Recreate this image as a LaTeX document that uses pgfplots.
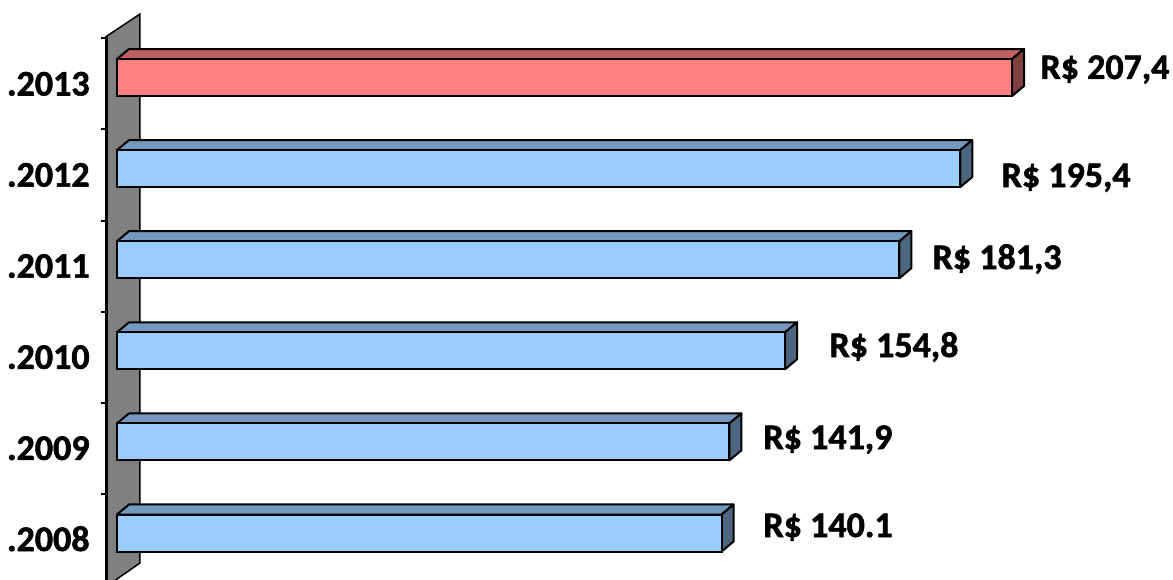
\documentclass[border=0pt]{standalone}
\usepackage{fontspec}
\setmainfont{Carlito}[BoldFeatures={FakeBold=1.5}]
\usepackage{pgfplots}
\pgfplotsset{compat=1.18}
\definecolor{frontblue}{RGB}{153,204,255}
\definecolor{topblue}{RGB}{115,153,191}
\definecolor{sideblue}{RGB}{77,102,128}
\definecolor{frontred}{RGB}{255,128,128}
\definecolor{topred}{RGB}{191,96,96}
\definecolor{sidered}{RGB}{128,64,64}
\definecolor{wallgray}{RGB}{128,128,128}

% top and right faces of a 3D bar: value, category, top colour, side colour
\newcommand{\barfaces}[4]{%
  \pgfmathsetmacro\va{#1+2.78}%
  \pgfmathsetmacro\ya{#2+0.203}%
  \pgfmathsetmacro\yb{#2+0.313}%
  \pgfmathsetmacro\yc{#2-0.093}%
  \pgfmathsetmacro\yd{#2-0.203}%
  \edef\tmp{%
    \noexpand\addplot[fill=#3, draw=black, line width=1pt, line join=round]
      coordinates {(0,\ya) (2.78,\yb) (\va,\yb) (#1,\ya)} -- cycle;
    \noexpand\addplot[fill=#4, draw=black, line width=1pt, line join=round]
      coordinates {(#1,\ya) (\va,\yb) (\va,\yc) (#1,\yd)} -- cycle;}%
  \tmp}

\begin{document}
\begin{tikzpicture}
\begin{axis}[
  scale only axis, width=533pt, height=289.5pt,
  xmin=-2.318, xmax=244.7, ymin=-0.505, ymax=5.851,
  clip=false,
  axis line style={draw=none},
  xtick=\empty,
  ytick={0,...,5},
  yticklabels={\textbf{.2008},\textbf{.2009},\textbf{.2010},\textbf{.2011},\textbf{.2012},\textbf{.2013}},
  yticklabel style={anchor=base east, inner sep=0pt, xshift=-8.5pt, yshift=-9pt,
    font=\fontsize{18}{21}\selectfont\bfseries},
  major tick length=0pt,
  extra y ticks={0.43,1.43,2.43,3.43,4.43,5.43},
  extra y tick labels={},
  extra y tick style={major tick length=3pt, tick align=outside,
    tick style={black, line width=1pt}},
  bar width=18.5pt,
]
% back wall
\draw[fill=wallgray, line width=0.75pt] (axis cs:-2.318,5.456) -- (axis cs:5.33,5.697)
  -- (axis cs:5.33,-0.329) -- (axis cs:-2.318,-0.582) -- cycle;
\draw[line width=1.5pt] (axis cs:-2.318,5.456) -- (axis cs:-2.318,-0.582);

\barfaces{140.1}{0}{topblue}{sideblue}
\barfaces{141.9}{1}{topblue}{sideblue}
\barfaces{154.8}{2}{topblue}{sideblue}
\barfaces{181.3}{3}{topblue}{sideblue}
\barfaces{195.4}{4}{topblue}{sideblue}
\barfaces{207.4}{5}{topred}{sidered}

\addplot[xbar, bar shift=0pt, fill=frontblue, draw=black, line width=1pt]
  coordinates {(140.1,0) (141.9,1) (154.8,2) (181.3,3) (195.4,4)};
\addplot[xbar, bar shift=0pt, fill=frontred, draw=black, line width=1pt]
  coordinates {(207.4,5)};

\begin{scope}[every node/.style={anchor=base west, inner sep=0pt,
    font=\fontsize{18}{21}\selectfont\bfseries}]
\node at (axis cs:213.9,4.984) {R\$ 207,4};
\node at (axis cs:204.9,3.798) {R\$ 195,4};
\node at (axis cs:188.9,2.898) {R\$ 181,3};
\node at (axis cs:165.0,1.932) {R\$ 154,8};
\node at (axis cs:149.7,0.922) {R\$ 141,9};
\node at (axis cs:149.7,-0.044) {R\$ 140.1};
\end{scope}

\coordinate (bl) at (axis cs:-27.11,-0.505);
\coordinate (tr) at (axis cs:244.7,5.851);
\end{axis}
\pgfresetboundingbox
\path[use as bounding box] (bl) rectangle (tr);
\end{tikzpicture}
\end{document}
